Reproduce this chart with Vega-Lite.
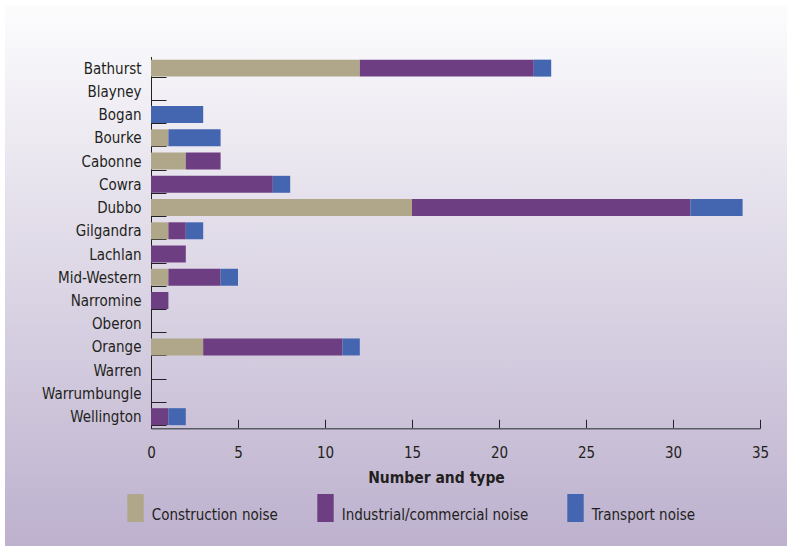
{
  "$schema": "https://vega.github.io/schema/vega-lite/v6.json",
  "width": 782,
  "height": 541,
  "autosize": {"type": "none"},
  "padding": {"left": 5, "top": 5, "right": 0, "bottom": 0},
  "background": "#ffffff",
  "config": {
    "view": {
      "stroke": null,
      "fill": {
        "gradient": "linear",
        "x1": 0, "y1": 0, "x2": 0, "y2": 1,
        "stops": [
          {"offset": 0, "color": "#fcfcfd"},
          {"offset": 1, "color": "#bdb1ce"}
        ]
      }
    },
    "font": "DejaVu Sans Condensed, sans-serif"
  },
  "data": {
    "values": [
      {"region": "Bathurst", "type": "Construction noise", "count": 12},
      {"region": "Bathurst", "type": "Industrial/commercial noise", "count": 10},
      {"region": "Bathurst", "type": "Transport noise", "count": 1},
      {"region": "Blayney", "type": "Construction noise", "count": 0},
      {"region": "Bogan", "type": "Transport noise", "count": 3},
      {"region": "Bourke", "type": "Construction noise", "count": 1},
      {"region": "Bourke", "type": "Transport noise", "count": 3},
      {"region": "Cabonne", "type": "Construction noise", "count": 2},
      {"region": "Cabonne", "type": "Industrial/commercial noise", "count": 2},
      {"region": "Cowra", "type": "Industrial/commercial noise", "count": 7},
      {"region": "Cowra", "type": "Transport noise", "count": 1},
      {"region": "Dubbo", "type": "Construction noise", "count": 15},
      {"region": "Dubbo", "type": "Industrial/commercial noise", "count": 16},
      {"region": "Dubbo", "type": "Transport noise", "count": 3},
      {"region": "Gilgandra", "type": "Construction noise", "count": 1},
      {"region": "Gilgandra", "type": "Industrial/commercial noise", "count": 1},
      {"region": "Gilgandra", "type": "Transport noise", "count": 1},
      {"region": "Lachlan", "type": "Industrial/commercial noise", "count": 2},
      {"region": "Mid-Western", "type": "Construction noise", "count": 1},
      {"region": "Mid-Western", "type": "Industrial/commercial noise", "count": 3},
      {"region": "Mid-Western", "type": "Transport noise", "count": 1},
      {"region": "Narromine", "type": "Industrial/commercial noise", "count": 1},
      {"region": "Oberon", "type": "Construction noise", "count": 0},
      {"region": "Orange", "type": "Construction noise", "count": 3},
      {"region": "Orange", "type": "Industrial/commercial noise", "count": 8},
      {"region": "Orange", "type": "Transport noise", "count": 1},
      {"region": "Warren", "type": "Construction noise", "count": 0},
      {"region": "Warrumbungle", "type": "Construction noise", "count": 0},
      {"region": "Wellington", "type": "Industrial/commercial noise", "count": 1},
      {"region": "Wellington", "type": "Transport noise", "count": 1}
    ]
  },
  "mark": {"type": "bar"},
  "encoding": {
    "y": {
      "field": "region",
      "type": "nominal",
      "sort": null,
      "scale": {
        "domain": ["Bathurst", "Blayney", "Bogan", "Bourke", "Cabonne", "Cowra", "Dubbo", "Gilgandra", "Lachlan", "Mid-Western", "Narromine", "Oberon", "Orange", "Warren", "Warrumbungle", "Wellington"],
        "range": [51.5, 423.3],
        "paddingInner": 0.27,
        "paddingOuter": 0.135
      },
      "axis": {
        "title": null,
        "orient": "left",
        "offset": -146,
        "tickBand": "extent",
        "tickSize": -15,
        "tickColor": "#222222",
        "domainColor": "#222222",
        "labelPadding": 25,
        "labelFontSize": 15,
        "labelColor": "#231f20"
      }
    },
    "x": {
      "field": "count",
      "type": "quantitative",
      "stack": "zero",
      "scale": {"domain": [0, 35], "range": [146, 755], "nice": false},
      "axis": {
        "title": "Number and type",
        "orient": "bottom",
        "offset": -117.7,
        "values": [0, 5, 10, 15, 20, 25, 30, 35],
        "grid": false,
        "tickSize": -9,
        "tickColor": "#222222",
        "domainColor": "#5b5b66",
        "domainWidth": 1.5,
        "labelFlush": false,
        "labelPadding": 33.5,
        "labelBaseline": "middle",
        "labelFontSize": 15,
        "labelColor": "#231f20",
        "titleFontSize": 15.5,
        "titleFontWeight": "bold",
        "titleColor": "#231f20",
        "titleX": 431,
        "titleY": 53.7,
        "titleBaseline": "alphabetic",
        "titleAlign": "center"
      }
    },
    "color": {
      "field": "type",
      "type": "nominal",
      "scale": {
        "domain": ["Construction noise", "Industrial/commercial noise", "Transport noise"],
        "range": ["#b0a78a", "#6e3e82", "#4466b0"]
      },
      "legend": {
        "title": null,
        "orient": "none",
        "legendX": 116.5,
        "legendY": 489,
        "direction": "horizontal",
        "symbolType": "M-0.586,-1H0.586V1H-0.586Z",
        "symbolSize": 784,
        "symbolStrokeWidth": 0,
        "symbolOpacity": 1,
        "labelOffset": 2.2,
        "labelFontSize": 15,
        "labelColor": "#231f20",
        "labelBaseline": "top",
        "labelLimit": 400,
        "columnPadding": 33
      }
    }
  }
}
